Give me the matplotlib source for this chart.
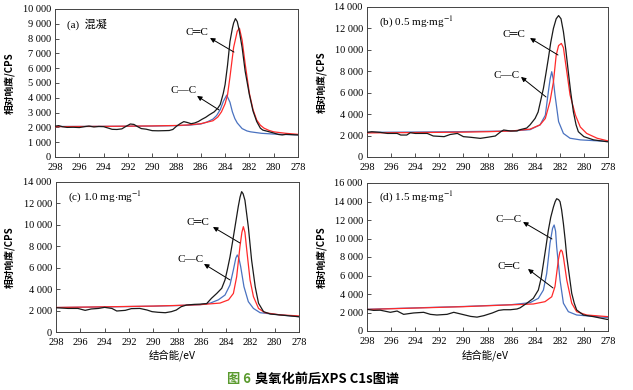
import matplotlib
matplotlib.use("Agg")
import matplotlib.pyplot as plt
from matplotlib.ticker import FuncFormatter, MultipleLocator

plt.rcParams['font.family'] = ['Liberation Serif', 'Noto Sans CJK SC', 'DejaVu Sans']
plt.rcParams['mathtext.fontset'] = 'stix'

# ---------------- data ----------------
# panel (a)
a_black_x = [298, 297.7, 297.4, 297, 296.5, 296, 295.5, 295.2, 294.8, 294.4, 294, 293.6, 293.3, 292.9, 292.5,
             292.2, 291.8, 291.5, 291.2, 290.9, 290.5, 290, 289.5, 289, 288.6, 288.3, 288, 287.7, 287.4, 287.1,
             286.8, 286.5, 286.2, 285.9, 285.6, 285.3, 284.9, 284.6, 284.4, 284.15, 284, 283.8, 283.6, 283.4,
             283.3, 283.15, 283, 282.85, 282.6, 282.35, 282.0, 281.7, 281.4, 281.1, 280.9, 280.4, 280, 279.6,
             279.3, 279, 278.7, 278.3, 278]
a_black_y = [2080, 2120, 2050, 2000, 2010, 1990, 2060, 2090, 2030, 2060, 2050, 1950, 1870, 1860, 1900,
             2050, 2230, 2200, 2050, 1920, 1880, 1780, 1770, 1780, 1790, 1860, 2080, 2250, 2390, 2330,
             2250, 2300, 2400, 2550, 2680, 2850, 3050, 3300, 3550, 4300, 4900, 6200, 7800, 8700,
             9050, 9350, 9150, 8600, 7400, 5800, 4200, 3100, 2400, 1950, 1820, 1710, 1620, 1520,
             1490, 1530, 1520, 1500, 1490]
a_red_x = [298, 294, 290, 288, 287, 286, 285, 284.6, 284.3, 284.0, 283.8, 283.6, 283.3, 283.0, 282.82,
           282.6, 282.35, 282.0, 281.7, 281.4, 281.1, 280.8, 280.4, 280, 279, 278]
a_red_y = [2050, 2070, 2100, 2130, 2170, 2250, 2450, 2700, 3050, 3600, 4200, 5400, 7400, 8500, 8700,
           7900, 6300, 4300, 3200, 2500, 2150, 1950, 1800, 1700, 1600, 1530]
a_blue_x = [298, 294, 290, 288, 287, 286, 285.5, 285, 284.7, 284.4, 284.15, 283.87, 283.6, 283.4, 283.2,
            283, 282.6, 282.2, 281.9, 281, 280, 279, 278]
a_blue_y = [2060, 2070, 2090, 2120, 2150, 2230, 2360, 2560, 2800, 3200, 3750, 4180, 3700, 3050, 2600,
            2300, 1920, 1760, 1700, 1600, 1550, 1520, 1500]

# panel (b)
b_black_x = [298, 297.6, 296.9, 296.3, 295.5, 295.2, 294.7, 294.4, 294, 293, 292.5, 291.6, 291.1, 290.5,
             290, 289.4, 288.6, 288, 287.35, 286.9, 286.66, 286.1, 285.55, 285.3, 284.75, 284.47, 284.05,
             283.8, 283.6, 283.36, 283.15, 282.95, 282.75, 282.53, 282.3, 282.1, 281.9, 281.7, 281.5,
             281.3, 281.1, 280.87, 280.65, 280.46, 280.0, 279.2, 278.1, 278]
b_black_y = [2300, 2360, 2300, 2200, 2200, 2050, 2050, 2270, 2200, 2200, 1960, 1900, 2100, 2200,
             1900, 1840, 1740, 1840, 1960, 2360, 2520, 2430, 2430, 2550, 2700, 3000, 3600,
             4200, 5200, 6400, 7800, 9200, 10700, 12000, 12900, 13200, 12900, 11700, 10000,
             8000, 6100, 4200, 3000, 2360, 1900, 1600, 1430, 1420]
b_red_x = [298, 294, 290, 288, 286, 284.47, 283.64, 283.2, 282.81, 282.53, 282.3, 282.1, 281.87, 281.7,
           281.5, 281.15, 280.7, 280.3, 279.77, 278.9, 278]
b_red_y = [2250, 2280, 2320, 2360, 2430, 2600, 3000, 3600, 5200, 7000, 9500, 10400, 10600, 10200,
           8600, 5800, 3900, 2800, 2200, 1750, 1500]
b_blue_x = [298, 294, 290, 288, 286, 284.47, 283.64, 283.2, 282.95, 282.8, 282.67, 282.55, 282.4, 282.1,
            281.7, 281.15, 280.3, 278]
b_blue_y = [2300, 2330, 2370, 2400, 2430, 2550, 3000, 3900, 6100, 7300, 7960, 7300, 5800, 3300,
            2200, 1750, 1600, 1450]

# panel (c)
c_black_x = [298, 297, 296.2, 295.6, 295.1, 294.5, 294, 293.4, 293, 292.3, 291.8, 291.1, 290.5, 290.1,
             289.6, 289, 288.5, 288.1, 287.7, 287.25, 286.6, 286.15, 285.6, 285.2, 284.77, 284.36, 284.09,
             283.9, 283.68, 283.47, 283.27, 283.0, 282.85, 282.72, 282.6, 282.45, 282.17, 281.9, 281.6,
             281.33, 280.92, 280.37, 279.56, 278.06, 278]
c_black_y = [2270, 2200, 2200, 2020, 2150, 2200, 2300, 2200, 1960, 2020, 2180, 2200, 2050, 1900,
             1840, 1800, 1900, 2050, 2360, 2520, 2580, 2600, 2650, 3150, 3600, 4080, 4860,
             5800, 7000, 8400, 9800, 11700, 12600, 13100, 12900, 12300, 9800, 6700, 4200,
             2680, 1900, 1680, 1590, 1430, 1420]
c_red_x = [298, 294, 290, 288, 286.15, 284.5, 283.8, 283.4, 283.13, 282.86, 282.7, 282.58, 282.45, 282.3,
           282.03, 281.75, 281.33, 280.8, 279.56, 278]
c_red_y = [2290, 2350, 2420, 2480, 2550, 2700, 3000, 3600, 5160, 7970, 9300, 9830, 9300, 7660,
           4860, 3300, 2200, 1800, 1600, 1500]
c_blue_x = [298, 294, 290, 288, 286.15, 285.3, 284.64, 284.09, 283.68, 283.4, 283.2, 283.08, 282.95, 282.8,
            282.53, 282.17, 281.75, 281.2, 279.56, 278]
c_blue_y = [2280, 2340, 2410, 2470, 2550, 2700, 3000, 3450, 4390, 5800, 6900, 7190, 6900, 6100,
            4230, 2830, 2200, 1800, 1600, 1430]

# panel (d)
d_black_x = [298, 297.45, 296.9, 296.06, 295.5, 294.96, 294.13, 293.3, 292.74, 292.2, 291.36, 290.8, 290.1,
             289.4, 288.87, 288.3, 287.6, 287.07, 286.66, 286.1, 285.55, 285.3, 284.75, 284.2, 283.78,
             283.55, 283.36, 283.15, 282.95, 282.75, 282.53, 282.38, 282.26, 282.1, 281.98, 281.85, 281.7,
             281.55, 281.42, 281.2, 281.01, 280.8, 280.6, 280.04, 279.2, 278.1, 278]
d_black_y = [2340, 2230, 2250, 2020, 2160, 1800, 1950, 2020, 1800, 1730, 1800, 2020, 1800,
             1580, 1500, 1660, 1950, 2230, 2300, 2300, 2380, 2500, 2990, 3530, 4430,
             5700, 7300, 9100, 10900, 12300, 13400, 14000, 14300, 14200, 13980, 13100, 11600,
             9800, 8000, 5900, 4070, 3000, 2270, 1730, 1550, 1260, 1250]
d_blue_x = [298, 294, 290, 286, 284.47, 283.78, 283.36, 283.09, 282.81, 282.6, 282.47, 282.35, 282.26,
            281.98, 281.7, 281.29, 280.6, 278.1, 278]
d_blue_y = [2350, 2500, 2650, 2850, 3060, 3530, 4430, 6200, 9500, 11100, 11460, 10800, 9100,
            5500, 3000, 2090, 1730, 1460, 1450]
d_red_x = [298, 294, 290, 286, 284.2, 283.23, 282.67, 282.4, 282.12, 282.0, 281.9, 281.8, 281.7, 281.42,
           281.01, 280.6, 279.77, 278]
d_red_y = [2330, 2480, 2630, 2830, 2920, 3170, 3700, 4800, 7680, 8500, 8760, 8600, 8000, 5500,
           3000, 2090, 1730, 1550]

x_ticks = [298, 296, 294, 292, 290, 288, 286, 284, 282, 280, 278]
panel_titles = ["(a)  混凝", r"(b) 0.5 mg$\cdot$mg$^{-1}$", r"(c) 1.0 mg$\cdot$mg$^{-1}$", r"(d) 1.5 mg$\cdot$mg$^{-1}$"]
y_max = [10000, 14000, 14000, 16000]
y_step = [1000, 2000, 2000, 2000]
ylabel = "相对响度/CPS"
xlabel = "结合能/eV"

# annotations: (label, text pos, arrow head, arrow tail)
annots = [
    [("C═C", (286.3, 8380), (285.24, 8040), (283.27, 7090)),
     ("C—C", (287.38, 4460), (286.31, 4120), (284.5, 3180))],
    [("C═C", (285.8, 11390), (284.47, 11100), (282.15, 9520)),
     ("C—C", (286.38, 7560), (285.22, 7470), (283.14, 5600))],
    [("C═C", (286.31, 10180), (285.08, 9800), (282.86, 8310)),
     ("C—C", (286.89, 6720), (285.82, 6350), (283.68, 4860))],
    [("C—C", (286.22, 12000), (285.05, 11780), (282.65, 9950)),
     ("C═C", (286.22, 6920), (284.64, 6700), (282.56, 4650))],
]

panels = [
    (a_black_x, a_black_y, a_red_x, a_red_y, a_blue_x, a_blue_y),
    (b_black_x, b_black_y, b_red_x, b_red_y, b_blue_x, b_blue_y),
    (c_black_x, c_black_y, c_red_x, c_red_y, c_blue_x, c_blue_y),
    (d_black_x, d_black_y, d_red_x, d_red_y, d_blue_x, d_blue_y),
]

W, H = 633, 390
fig = plt.figure(figsize=(W / 100, H / 100), dpi=100)
fig.patch.set_facecolor('white')

# axes boxes in pixels: left, right, top, bottom
boxes = [(55, 298, 9, 157), (367, 608, 7, 157), (56, 299, 182, 332), (367, 608, 183, 331)]
ylabel_x = [-0.165, -0.166, -0.17, -0.166]

BLACK = '#1a1a1a'
RED = '#ff2a2a'
BLUE = '#4a72c0'

fmt = FuncFormatter(lambda v, p: f"{int(round(v)):,}".replace(",", " "))

for i, (box, data) in enumerate(zip(boxes, panels)):
    l, r, t, b = box
    ax = fig.add_axes([l / W, 1 - b / H, (r - l) / W, (b - t) / H])
    bx, by, rx, ry, ux, uy = data
    ax.plot(ux, uy, color=BLUE, lw=0.9, zorder=2)
    ax.plot(rx, ry, color=RED, lw=0.9, zorder=3)
    ax.plot(bx, by, color=BLACK, lw=0.9, zorder=4)
    ax.set_xlim(298, 278)
    ax.set_ylim(0, y_max[i])
    ax.set_xticks(x_ticks)
    ax.yaxis.set_major_locator(MultipleLocator(y_step[i]))
    ax.yaxis.set_major_formatter(fmt)
    ax.tick_params(direction='in', length=3, width=0.6, labelsize=7.5,
                   top=False, right=False, colors='#333333', labelcolor='black')
    ax.tick_params(axis='x', pad=4)
    ax.tick_params(axis='y', pad=3)
    for s in ax.spines.values():
        s.set_linewidth(0.7)
        s.set_color('#444444')
    ax.set_ylabel(ylabel, family=['Noto Sans CJK SC'], fontsize=7, fontweight='bold')
    ax.yaxis.set_label_coords(ylabel_x[i], 0.5)
    ax.text(0.05, 0.9, panel_titles[i], transform=ax.transAxes, fontsize=8, va='center', ha='left',
            family=['Liberation Serif', 'Noto Sans CJK SC'])
    for lab, tpos, head, tail in annots[i]:
        ax.text(tpos[0], tpos[1], lab, fontsize=8, ha='center', va='center',
                family=['Liberation Serif', 'DejaVu Sans'])
        ax.annotate('', xy=head, xytext=tail,
                    arrowprops=dict(arrowstyle='-|>', color='black', lw=0.7, mutation_scale=7,
                                    shrinkA=0, shrinkB=0))

fig.text(172 / W, 1 - 355 / H, xlabel, ha='center', va='center', fontsize=7.5,
         family=['Noto Sans CJK SC'])
fig.text(485 / W, 1 - 355 / H, xlabel, ha='center', va='center', fontsize=7.5,
         family=['Noto Sans CJK SC'])

fig.text(251 / W, 1 - 379 / H, "图 6", ha='right', va='center', fontsize=9.5, fontweight='bold',
         color='#5a9a2e', family=['Noto Sans CJK SC'])
fig.text(255 / W, 1 - 379 / H, "臭氧化前后XPS C1s图谱", ha='left', va='center', fontsize=9.5,
         fontweight='bold', color='black', family=['Noto Sans CJK SC'])

fig.savefig('out.png', dpi=100)
